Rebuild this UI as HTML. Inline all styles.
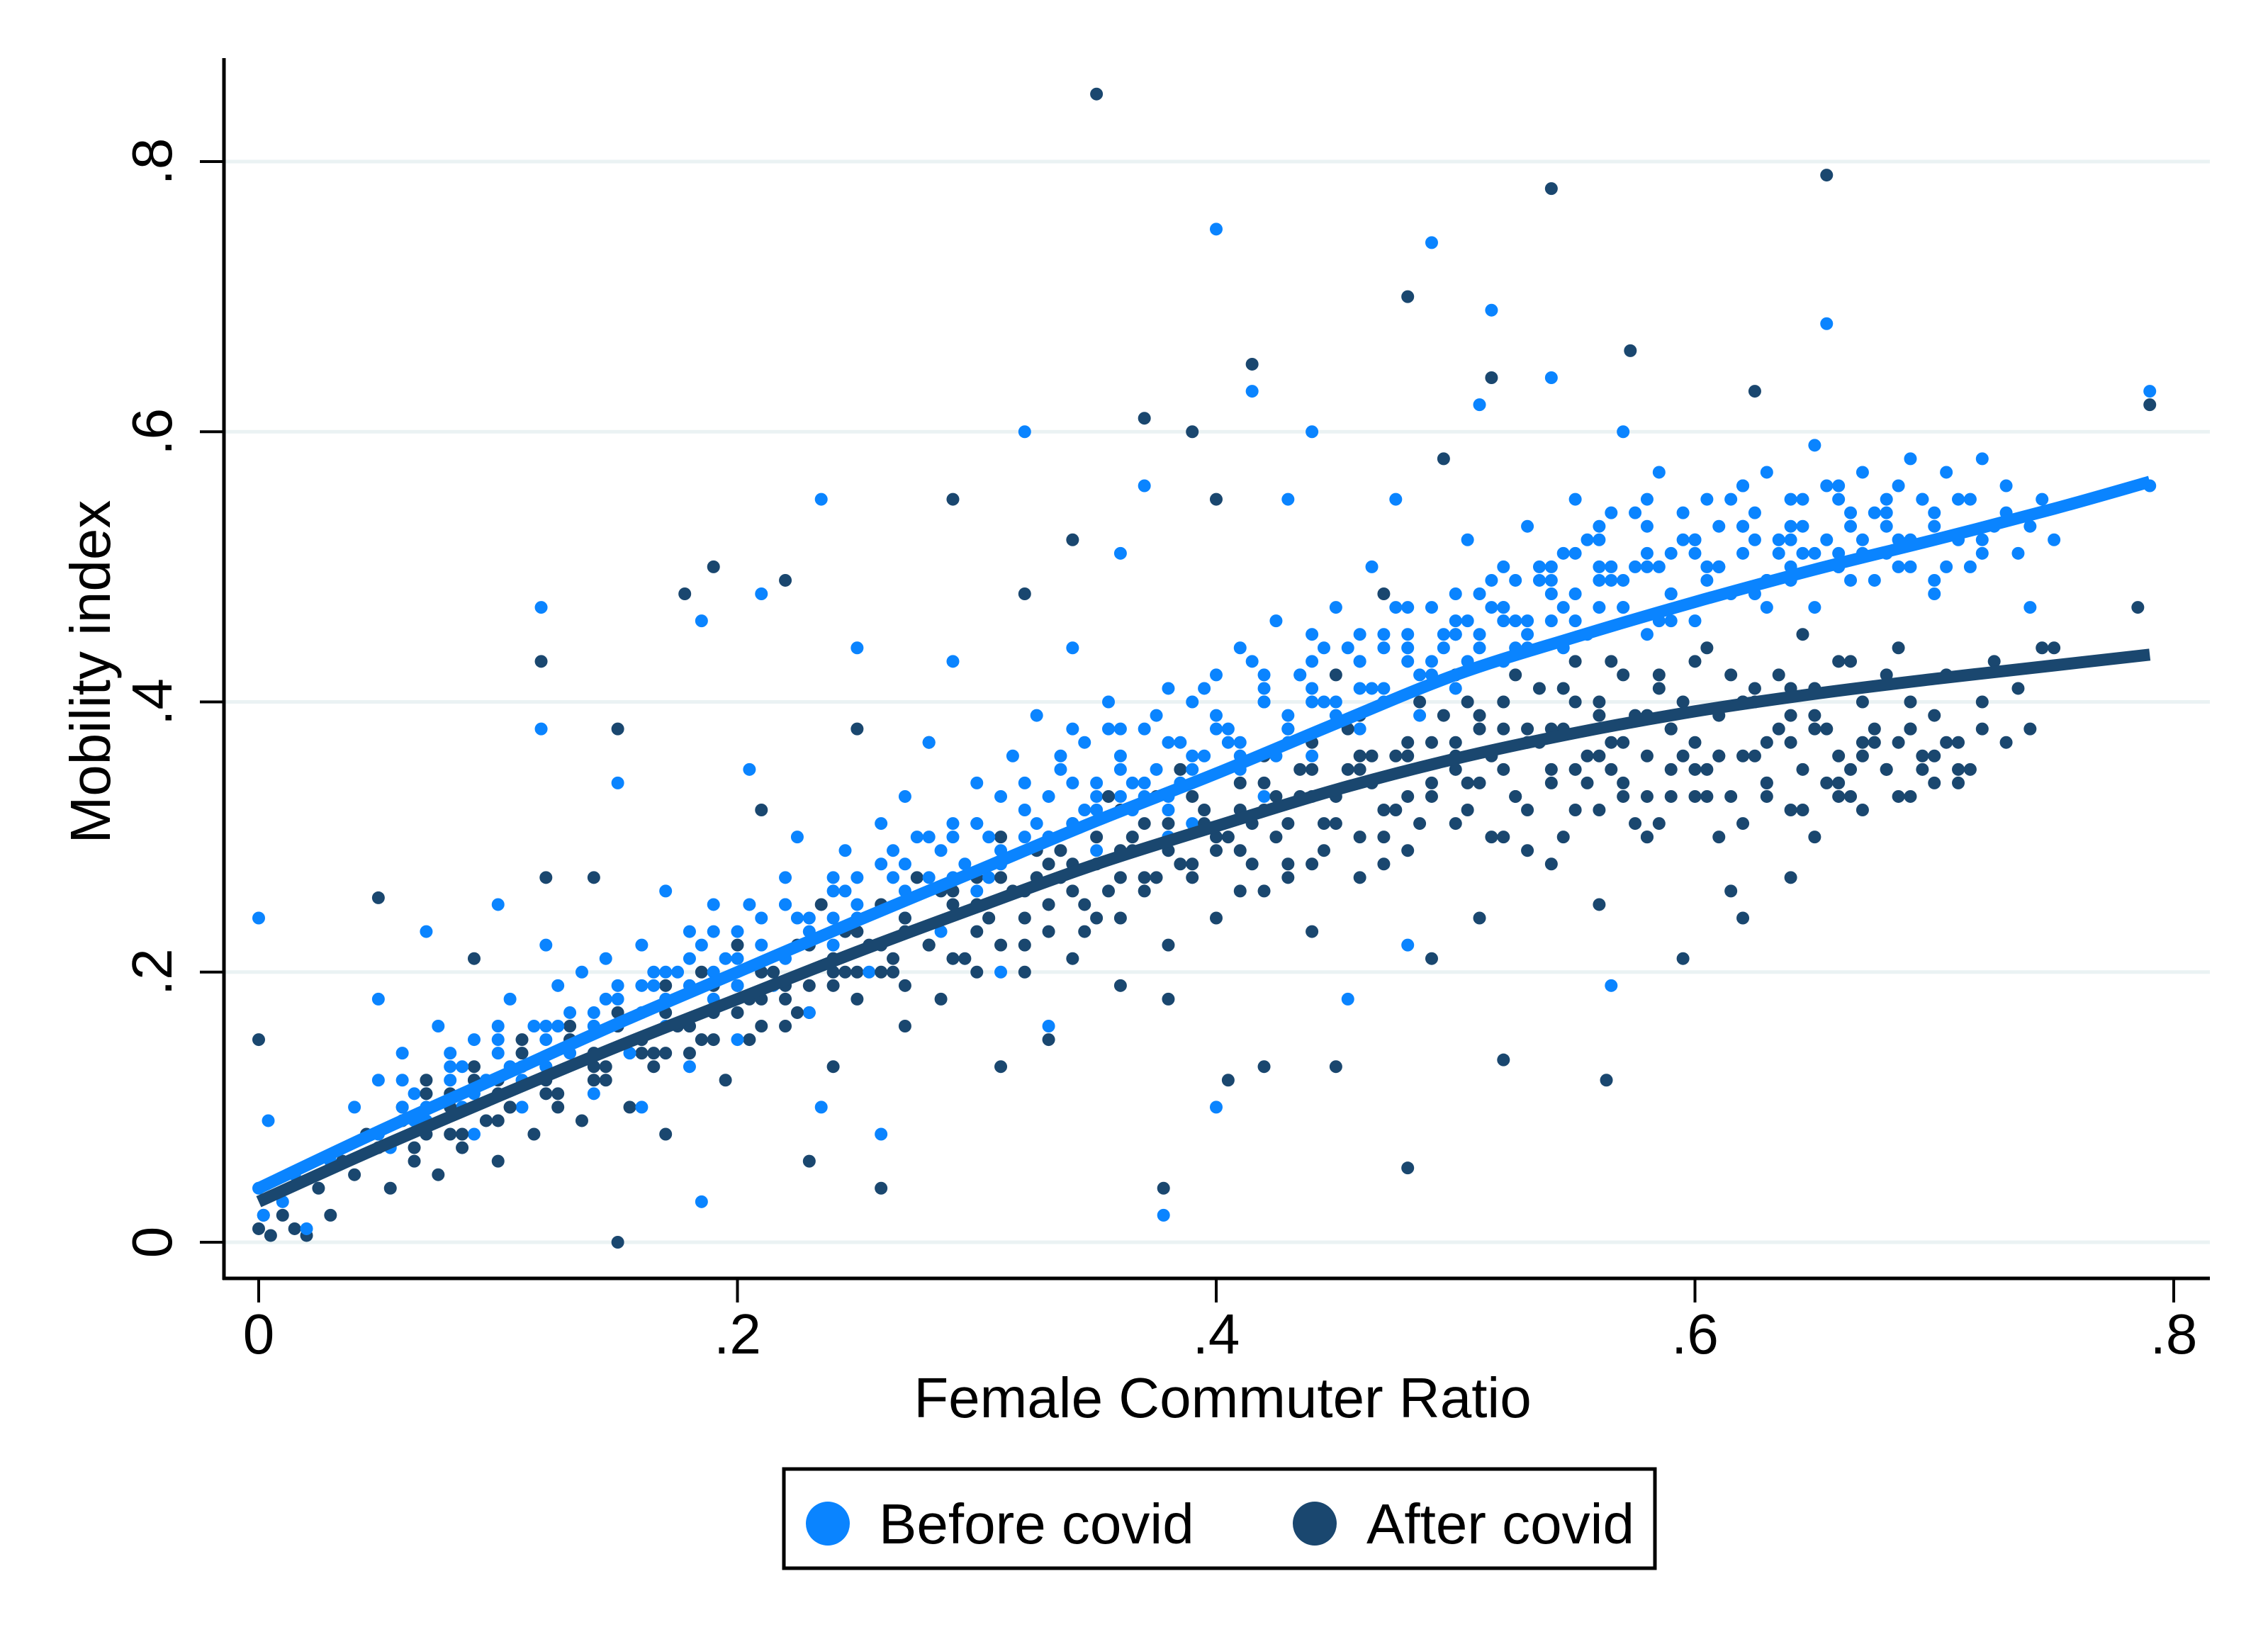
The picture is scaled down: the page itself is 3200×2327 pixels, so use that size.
<!DOCTYPE html>
<html><head><meta charset="utf-8"><style>
html,body{margin:0;padding:0;background:#fff;}
svg{display:block;font-family:"Liberation Sans",Arial,sans-serif;}
</style></head><body>
<svg id="chart" width="3200" height="2327" viewBox="0 0 3200 2327" xmlns="http://www.w3.org/2000/svg">
<rect width="3200" height="2327" fill="#fff"/>
<g id="grid"></g>
<g id="pts"></g>
<g id="fits"></g>
<g id="axes"></g>
<g id="legend">
<rect x="1106" y="2073" width="1229" height="140" fill="#fff" stroke="#000" stroke-width="5"/>
<circle cx="1168" cy="2150" r="31" fill="#0a84ff"/>
<text x="1240" y="2178" font-size="80" fill="#000">Before covid</text>
<circle cx="1855" cy="2150" r="31" fill="#1a476f"/>
<text x="1928" y="2178" font-size="80" fill="#000">After covid</text>
</g>
</svg>
<script>
const xTicks=[0,0.2,0.4,0.6,0.8];
const xTickLabels=["0",".2",".4",".6",".8"];
const yTicks=[0,0.2,0.4,0.6,0.8];
const yTickLabels=["0",".2",".4",".6",".8"];
const fitX=[0,0.05,0.1,0.15,0.2,0.25,0.3,0.35,0.4,0.45,0.5,0.55,0.6,0.65,0.7,0.75,0.79];
const fitBefore=[0.04,0.082,0.122,0.162,0.2,0.238,0.275,0.312,0.347,0.384,0.42,0.448,0.474,0.498,0.52,0.543,0.563];
const fitAfter=[0.03,0.07,0.108,0.145,0.18,0.215,0.248,0.28,0.308,0.335,0.358,0.377,0.393,0.406,0.417,0.427,0.435];
const beforeX=[0,0,.002,.004,.01,.015,.02,.03,.04,.05,.05,.055,.06,.065,.07,.07,.075,.08,.085,.09,.09,.095,.1,.1,.105,.11,.115,.118,.118,.12,.12,.125,.13,.135,.14,.14,.145,.15,.15,.155,.16,.16,.165,.17,.17,.175,.18,.18,.185,.185,.19,.19,.195,.2,.2,.205,.21,.21,.215,.22,.22,.225,.23,.23,.235,.235,.24,.24,.245,.25,.25,.255,.26,.26,.265,.27,.27,.275,.28,.28,.285,.29,.29,.295,.3,.3,.305,.31,.31,.315,.32,.32,.325,.33,.33,.335,.34,.34,.345,.35,.35,.355,.36,.36,.365,.37,.37,.375,.378,.38,.38,.385,.39,.39,.395,.4,.4,.4,.405,.41,.41,.415,.42,.42,.425,.43,.43,.435,.44,.44,.445,.45,.45,.455,.46,.46,.465,.47,.47,.475,.48,.48,.485,.49,.49,.495,.5,.5,.505,.51,.51,.515,.515,.52,.52,.525,.53,.53,.535,.54,.54,.545,.55,.55,.555,.56,.56,.565,.565,.57,.57,.575,.58,.58,.585,.59,.59,.595,.6,.6,.605,.61,.61,.615,.62,.62,.625,.63,.63,.635,.64,.64,.645,.65,.65,.655,.655,.66,.66,.665,.67,.67,.675,.68,.68,.685,.69,.69,.695,.7,.7,.705,.71,.715,.72,.725,.73,.735,.74,.745,.75,.79,.79,.44,.46,.48,.5,.52,.54,.56,.58,.33,.35,.37,.39,.41,.43,.27,.25,.23,.21,.19,.17,.15,.13,.11,.09,.07,.05,.06,.08,.1,.47,.49,.51,.53,.55,.57,.59,.61,.63,.62,.64,.66,.36,.38,.42,.44,.29,.31,.24,.22,.2,.18,.16,.14,.12];
const beforeY=[.24,.04,.02,.09,.03,.05,.01,.06,.1,.18,.12,.07,.14,.09,.23,.11,.16,.13,.1,.15,.08,.12,.14,.25,.18,.1,.16,.47,.38,.22,.13,.19,.15,.2,.17,.11,.21,.34,.18,.14,.22,.1,.19,.26,.16,.2,.23,.13,.46,.03,.25,.18,.21,.23,.15,.35,.48,.24,.19,.27,.21,.3,.24,.17,.55,.1,.26,.22,.29,.44,.25,.2,.08,.31,.27,.24,.33,.3,.27,.37,.23,.31,.43,.28,.26,.34,.3,.2,.33,.36,.6,.3,.39,.33,.16,.35,.31,.44,.37,.34,.29,.4,.36,.51,.32,.38,.56,.35,.02,.41,.33,.37,.4,.31,.36,.75,.42,.1,.38,.35,.44,.63,.4,.33,.46,.38,.55,.42,.6,.36,.44,.4,.47,.18,.43,.38,.5,.41,.45,.55,.43,.22,.39,.74,.47,.44,.48,.41,.52,.45,.62,.69,.47,.43,.5,.46,.53,.44,.49,.64,.46,.51,.48,.55,.45,.52,.49,.19,.54,.6,.47,.5,.53,.45,.57,.51,.48,.54,.52,.46,.55,.5,.53,.48,.56,.51,.54,.49,.57,.52,.55,.5,.53,.59,.47,.68,.52,.56,.5,.54,.51,.57,.49,.55,.53,.5,.58,.52,.55,.54,.49,.57,.52,.55,.58,.53,.56,.51,.47,.55,.52,.63,.56,.4,.41,.45,.45,.47,.49,.47,.5,.3,.32,.34,.36,.37,.39,.28,.27,.22,.2,.2,.18,.16,.14,.12,.11,.09,.08,.1,.12,.16,.44,.43,.48,.46,.51,.49,.46,.5,.47,.53,.49,.51,.38,.3,.42,.45,.3,.28,.24,.25,.19,.21,.19,.16,.15];
const beforeX2=[.06,.07,.08,.09,.1,.11,.12,.13,.14,.15,.16,.17,.18,.19,.2,.21,.22,.23,.24,.25,.26,.27,.28,.29,.3,.31,.32,.33,.34,.35,.36,.37,.38,.39,.4,.41,.42,.43,.44,.45,.46,.47,.48,.49,.5,.51,.52,.53,.54,.55,.56,.57,.58,.59,.6,.61,.62,.63,.64,.65,.66,.67,.68,.69,.7,.71,.72,.73,.285,.305,.325,.345,.365,.385,.405,.425,.445,.465,.485,.505,.525,.545,.565,.585,.605,.625,.645,.665,.685,.705,.435,.455,.475,.495,.515,.535,.555,.575,.595,.615,.635,.655,.675,.695,.715,.335,.355,.375,.395,.415,.265,.245,.225,.205,.185,.165,.145,.125,.105,.085,.065,.505,.525,.545,.565,.585,.605,.625,.645,.665,.685,.48,.5,.52,.54,.56,.58,.6,.62,.64,.66,.68,.7,.72,.74,.46,.44,.42,.4,.38,.36,.34,.32,.3];
const beforeY2=[.12,.1,.14,.12,.15,.13,.16,.17,.16,.19,.17,.2,.19,.23,.21,.22,.25,.23,.27,.24,.28,.26,.3,.27,.31,.29,.32,.3,.34,.33,.35,.33,.37,.35,.38,.36,.4,.37,.41,.39,.43,.4,.44,.42,.45,.44,.47,.45,.48,.46,.5,.47,.51,.48,.52,.5,.53,.49,.52,.51,.55,.52,.54,.5,.53,.55,.52,.54,.29,.27,.31,.32,.34,.34,.37,.36,.4,.41,.42,.46,.44,.47,.49,.5,.5,.52,.55,.53,.56,.5,.42,.44,.47,.45,.49,.5,.52,.54,.52,.55,.51,.56,.54,.55,.5,.36,.38,.39,.41,.43,.29,.26,.24,.25,.22,.2,.18,.16,.13,.13,.11,.43,.49,.44,.5,.46,.49,.48,.51,.49,.52,.47,.46,.46,.5,.53,.55,.51,.56,.53,.5,.51,.48,.51,.53,.45,.43,.41,.39,.32,.33,.38,.34,.31];
const afterX=[0,0,.002,.005,.01,.015,.02,.025,.03,.035,.04,.045,.05,.05,.055,.06,.065,.07,.07,.075,.08,.085,.09,.09,.095,.1,.1,.105,.11,.115,.118,.12,.12,.125,.13,.135,.14,.14,.145,.15,.15,.15,.155,.16,.165,.17,.17,.175,.178,.18,.185,.19,.19,.195,.2,.2,.205,.21,.21,.215,.22,.22,.225,.23,.23,.235,.24,.24,.245,.25,.25,.255,.26,.26,.265,.27,.27,.275,.28,.28,.285,.29,.29,.295,.3,.3,.305,.31,.31,.315,.32,.32,.325,.33,.33,.335,.34,.34,.345,.35,.35,.355,.36,.36,.365,.37,.37,.375,.378,.38,.38,.385,.39,.39,.395,.4,.4,.405,.41,.41,.415,.415,.42,.42,.425,.43,.43,.435,.44,.44,.445,.45,.45,.455,.46,.46,.465,.47,.47,.475,.48,.48,.48,.485,.49,.49,.495,.5,.5,.505,.51,.51,.515,.515,.52,.52,.525,.53,.53,.535,.54,.54,.545,.55,.55,.555,.56,.56,.563,.565,.57,.57,.573,.575,.58,.58,.585,.59,.59,.595,.595,.6,.6,.605,.61,.61,.615,.615,.62,.62,.625,.625,.63,.63,.635,.64,.64,.645,.65,.65,.655,.655,.66,.66,.665,.67,.67,.675,.68,.68,.685,.69,.69,.695,.7,.7,.705,.71,.715,.72,.725,.73,.735,.74,.745,.75,.785,.79,.42,.44,.46,.48,.5,.52,.54,.56,.58,.62,.64,.3,.32,.34,.36,.38,.26,.24,.22,.18,.16,.14,.12,.1,.08,.45,.47,.49,.51,.53,.55,.57,.59,.61,.63,.65,.67,.69,.71,.43,.41,.39,.37,.35,.33,.31,.29,.27,.25,.23,.21,.19,.17];
const afterY=[.15,.01,.02,.005,.02,.01,.005,.04,.02,.06,.05,.08,.255,.07,.04,.1,.06,.12,.08,.05,.11,.07,.13,.21,.09,.12,.06,.1,.15,.08,.43,.27,.13,.11,.16,.09,.14,.27,.12,.38,0,.17,.1,.15,.13,.19,.08,.16,.48,.14,.2,.5,.17,.12,.19,.22,.15,.18,.32,.2,.49,.16,.22,.19,.06,.25,.21,.13,.23,.18,.38,.22,.04,.25,.2,.23,.16,.27,.22,.37,.18,.25,.55,.21,.27,.2,.24,.3,.13,.26,.48,.22,.29,.25,.15,.27,.52,.31,.23,.85,.28,.26,.32,.19,.29,.61,.27,.33,.04,.3,.18,.35,.6,.28,.32,.55,.29,.12,.34,.26,.65,.31,.36,.13,.3,.38,.27,.33,.37,.23,.31,.42,.13,.35,.3,.39,.34,.48,.28,.36,.7,.055,.33,.4,.37,.21,.58,.35,.42,.32,.38,.24,.64,.36,.135,.4,.33,.37,.29,.41,.78,.35,.38,.32,.43,.36,.4,.25,.12,.37,.34,.42,.66,.39,.36,.3,.41,.38,.33,.21,.4,.37,.43,.35,.39,.3,.26,.42,.36,.24,.63,.4,.37,.33,.42,.39,.27,.35,.41,.3,.79,.38,.36,.43,.33,.4,.32,.38,.35,.42,.37,.33,.4,.36,.39,.34,.42,.37,.35,.4,.43,.37,.41,.38,.44,.44,.47,.62,.32,.33,.35,.36,.37,.38,.38,.39,.39,.4,.41,.25,.26,.28,.29,.31,.22,.2,.19,.16,.14,.12,.11,.09,.08,.31,.3,.33,.34,.32,.35,.33,.35,.36,.34,.38,.36,.38,.35,.28,.29,.27,.26,.24,.23,.22,.21,.19,.2,.17,.16,.15,.14];
const afterX2=[.06,.07,.08,.09,.1,.11,.12,.13,.14,.15,.16,.17,.18,.19,.2,.21,.22,.23,.24,.25,.26,.27,.28,.29,.3,.31,.32,.33,.34,.35,.36,.37,.38,.39,.4,.41,.42,.43,.44,.45,.46,.47,.48,.49,.5,.51,.52,.53,.54,.55,.56,.57,.58,.59,.6,.61,.62,.63,.64,.65,.66,.67,.68,.69,.7,.71,.72,.285,.305,.325,.345,.365,.385,.405,.425,.445,.465,.485,.505,.525,.545,.565,.585,.605,.625,.645,.665,.685,.705,.435,.455,.475,.495,.515,.535,.555,.575,.595,.615,.635,.655,.675,.695,.335,.355,.375,.395,.415,.265,.245,.225,.205,.185,.165,.145,.125,.105,.085,.065,.505,.525,.545,.565,.585,.605,.625,.645,.665,.685,.48,.5,.52,.54,.56,.58,.6,.62,.64,.66,.46,.44,.42,.4,.38,.36,.34,.32];
const afterY2=[.09,.11,.1,.12,.11,.14,.12,.15,.13,.16,.15,.17,.16,.19,.17,.2,.18,.22,.19,.23,.2,.24,.22,.26,.23,.27,.24,.28,.26,.3,.27,.31,.29,.33,.3,.32,.34,.31,.35,.33,.36,.32,.37,.34,.36,.39,.35,.38,.34,.4,.36,.37,.33,.38,.35,.36,.4,.34,.37,.39,.33,.37,.35,.38,.36,.34,.38,.26,.24,.27,.25,.3,.28,.3,.33,.29,.36,.31,.34,.33,.3,.35,.31,.33,.36,.32,.35,.33,.37,.35,.38,.32,.39,.3,.37,.34,.31,.36,.33,.38,.34,.37,.35,.29,.33,.27,.31,.28,.21,.2,.17,.18,.15,.14,.13,.1,.1,.08,.07,.4,.42,.41,.43,.42,.44,.41,.45,.43,.44,.29,.31,.3,.28,.32,.3,.33,.31,.32,.34,.27,.28,.26,.24,.22,.24,.21,.2];

const NS="http://www.w3.org/2000/svg";
const X0=365, X1=3067, Y0=1753, Y1=228, PL=316, PR=3118, PT=82, PB=1804;
const sx=v=>X0+(X1-X0)*v/0.8;
const sy=v=>Y0+(Y1-Y0)*v/0.8;
function mk(tag,attrs,parent){const e=document.createElementNS(NS,tag);for(const k in attrs)e.setAttribute(k,attrs[k]);parent.appendChild(e);return e;}
const grid=document.getElementById('grid'),pts=document.getElementById('pts'),fits=document.getElementById('fits'),axes=document.getElementById('axes');
yTicks.forEach(v=>{
  const l=mk('line',{x1:PL,x2:PR,y1:sy(v),y2:sy(v),stroke:'#eaf2f3','stroke-width':5},grid);
  
  
});
const R=9;
const afterG=mk('g',{},pts);


const beforeG=mk('g',{},pts);


const afterTop=mk('g',{},pts);


afterX.forEach((x,i)=>{
  const c=mk('circle',{cx:sx(x),cy:sy(afterY[i]),r:R,fill:'#1a476f'},afterG);
  
  
});
beforeX.forEach((x,i)=>{
  const c=mk('circle',{cx:sx(x),cy:sy(beforeY[i]),r:R,fill:'#0a84ff'},beforeG);
  
  
});
beforeX2.forEach((x,i)=>{
  const c=mk('circle',{cx:sx(x),cy:sy(beforeY2[i]),r:R,fill:'#0a84ff'},beforeG);
  
  
});
afterX2.forEach((x,i)=>{
  const c=mk('circle',{cx:sx(x),cy:sy(afterY2[i]),r:R,fill:'#1a476f'},afterTop);
  
  
});
function fitPath(ys){
  const p=fitX.map((x,i)=>[sx(x),sy(ys[i])]);
  let d='M'+p[0][0].toFixed(1)+','+p[0][1].toFixed(1);
  for(let i=0;i<p.length-1;i++){
    const p0=p[i-1]||p[i],p1=p[i],p2=p[i+1],p3=p[i+2]||p2;
    const c1x=p1[0]+(p2[0]-p0[0])/6,c1y=p1[1]+(p2[1]-p0[1])/6;
    const c2x=p2[0]-(p3[0]-p1[0])/6,c2y=p2[1]-(p3[1]-p1[1])/6;
    d+=` C${c1x.toFixed(1)},${c1y.toFixed(1)} ${c2x.toFixed(1)},${c2y.toFixed(1)} ${p2[0].toFixed(1)},${p2[1].toFixed(1)}`;
  }
  return d;
}
const fb=mk('path',{d:fitPath(fitBefore),fill:'none',stroke:'#0a84ff','stroke-width':17},fits);


const fa=mk('path',{d:fitPath(fitAfter),fill:'none',stroke:'#1a476f','stroke-width':17},fits);


const ya=mk('line',{x1:PL,x2:PL,y1:PT,y2:PB+2,stroke:'#000','stroke-width':5},axes);


const xa=mk('line',{x1:PL-2,x2:PR,y1:PB,y2:PB,stroke:'#000','stroke-width':5},axes);


yTicks.forEach((v,i)=>{
  const t=mk('line',{x1:PL-34,x2:PL,y1:sy(v),y2:sy(v),stroke:'#000','stroke-width':4},axes);
  
  
  const tx=mk('text',{x:0,y:0,'font-size':80,'text-anchor':'middle',transform:`translate(242,${sy(v)}) rotate(-90)`},axes);
  tx.textContent=yTickLabels[i];
  
  
});
xTicks.forEach((v,i)=>{
  const t=mk('line',{x1:sx(v),x2:sx(v),y1:PB,y2:PB+34,stroke:'#000','stroke-width':4},axes);
  
  
  const tx=mk('text',{x:sx(v),y:1910,'font-size':80,'text-anchor':'middle'},axes);
  tx.textContent=xTickLabels[i];
  
  
});
const xt=mk('text',{x:1725,y:2000,'font-size':80,'text-anchor':'middle'},axes);
xt.textContent='Female Commuter Ratio';


const yt=mk('text',{x:0,y:0,'font-size':80,'text-anchor':'middle',transform:'translate(155,948) rotate(-90)'},axes);
yt.textContent='Mobility index';


</script>
</body></html>
